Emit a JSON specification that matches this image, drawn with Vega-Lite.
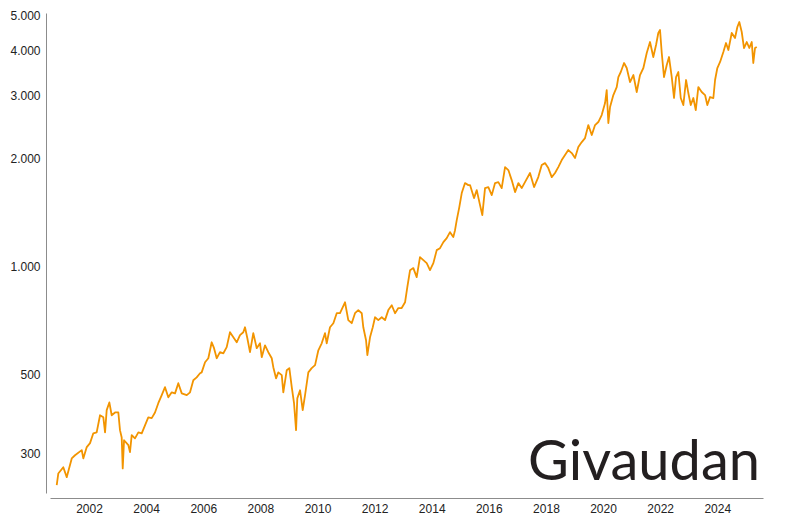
{
  "$schema": "https://vega.github.io/schema/vega-lite/v6.json",
  "autosize": {"type": "none"},
  "padding": {"left": 50, "top": 13, "right": 37, "bottom": 27},
  "width": 713,
  "height": 480,
  "background": "white",
  "config": {
    "view": {"stroke": null},
    "axis": {"grid": false, "ticks": false, "domainColor": "#8c8c8c", "domainWidth": 1, "labelFont": "Liberation Sans", "labelFontSize": 12, "labelColor": "#222222"}
  },
  "data": {"values": [
    {"date":"2000-11-14","close":245},{"date":"2000-12-04","close":264},{"date":"2001-02-06","close":275},{"date":"2001-03-22","close":258},{"date":"2001-05-25","close":291},{"date":"2001-07-06","close":297},{"date":"2001-09-30","close":307},{"date":"2001-10-20","close":291},{"date":"2001-12-03","close":313},{"date":"2002-01-14","close":321},{"date":"2002-02-25","close":342},{"date":"2002-04-09","close":344},{"date":"2002-05-22","close":384},{"date":"2002-07-03","close":379},{"date":"2002-07-25","close":344},{"date":"2002-08-15","close":397},{"date":"2002-09-18","close":417},{"date":"2002-10-18","close":384},{"date":"2002-11-30","close":391},{"date":"2003-01-11","close":391},{"date":"2003-02-01","close":349},{"date":"2003-02-23","close":333},{"date":"2003-03-08","close":273},{"date":"2003-03-25","close":327},{"date":"2003-05-19","close":317},{"date":"2003-06-09","close":303},{"date":"2003-07-01","close":338},{"date":"2003-08-12","close":331},{"date":"2003-09-24","close":344},{"date":"2003-11-06","close":342},{"date":"2003-12-18","close":360},{"date":"2004-01-29","close":379},{"date":"2004-03-13","close":377},{"date":"2004-04-24","close":391},{"date":"2004-06-05","close":415},{"date":"2004-07-19","close":437},{"date":"2004-08-30","close":460},{"date":"2004-10-11","close":431},{"date":"2004-11-24","close":445},{"date":"2005-01-05","close":442},{"date":"2005-02-16","close":472},{"date":"2005-04-01","close":442},{"date":"2005-06-04","close":437},{"date":"2005-07-16","close":445},{"date":"2005-08-27","close":481},{"date":"2005-10-09","close":490},{"date":"2005-11-21","close":503},{"date":"2005-12-12","close":506},{"date":"2006-01-24","close":540},{"date":"2006-03-07","close":554},{"date":"2006-04-19","close":614},{"date":"2006-05-19","close":591},{"date":"2006-06-22","close":554},{"date":"2006-08-03","close":576},{"date":"2006-09-15","close":572},{"date":"2006-10-28","close":595},{"date":"2006-12-09","close":655},{"date":"2007-01-21","close":634},{"date":"2007-03-05","close":614},{"date":"2007-04-16","close":643},{"date":"2007-05-28","close":655},{"date":"2007-06-19","close":676},{"date":"2007-07-19","close":630},{"date":"2007-08-22","close":576},{"date":"2007-10-03","close":651},{"date":"2007-11-16","close":591},{"date":"2007-12-28","close":610},{"date":"2008-01-19","close":558},{"date":"2008-03-01","close":602},{"date":"2008-04-12","close":576},{"date":"2008-05-26","close":554},{"date":"2008-06-15","close":523},{"date":"2008-07-20","close":487},{"date":"2008-08-18","close":506},{"date":"2008-10-01","close":497},{"date":"2008-10-21","close":445},{"date":"2008-12-04","close":513},{"date":"2009-01-06","close":520},{"date":"2009-02-06","close":460},{"date":"2009-03-07","close":415},{"date":"2009-04-02","close":349},{"date":"2009-04-18","close":428},{"date":"2009-05-23","close":451},{"date":"2009-06-26","close":397},{"date":"2009-07-26","close":437},{"date":"2009-09-06","close":506},{"date":"2009-10-19","close":520},{"date":"2009-12-01","close":530},{"date":"2010-01-12","close":583},{"date":"2010-02-24","close":610},{"date":"2010-04-07","close":651},{"date":"2010-04-29","close":610},{"date":"2010-06-10","close":676},{"date":"2010-07-23","close":694},{"date":"2010-09-04","close":740},{"date":"2010-10-16","close":740},{"date":"2010-12-19","close":794},{"date":"2011-01-30","close":708},{"date":"2011-03-15","close":694},{"date":"2011-04-26","close":740},{"date":"2011-06-07","close":755},{"date":"2011-07-21","close":740},{"date":"2011-08-10","close":676},{"date":"2011-09-14","close":622},{"date":"2011-10-01","close":565},{"date":"2011-11-04","close":634},{"date":"2011-12-09","close":676},{"date":"2012-01-07","close":721},{"date":"2012-02-18","close":708},{"date":"2012-04-02","close":721},{"date":"2012-05-14","close":708},{"date":"2012-06-25","close":755},{"date":"2012-08-08","close":779},{"date":"2012-09-19","close":740},{"date":"2012-10-31","close":765},{"date":"2012-12-13","close":765},{"date":"2013-01-25","close":794},{"date":"2013-02-23","close":875},{"date":"2013-03-30","close":976},{"date":"2013-05-11","close":989},{"date":"2013-06-23","close":933},{"date":"2013-08-04","close":1061},{"date":"2013-09-16","close":1041},{"date":"2013-10-29","close":1021},{"date":"2013-12-10","close":976},{"date":"2014-01-22","close":1021},{"date":"2014-03-06","close":1110},{"date":"2014-04-17","close":1124},{"date":"2014-05-30","close":1169},{"date":"2014-07-12","close":1199},{"date":"2014-08-23","close":1246},{"date":"2014-10-04","close":1207},{"date":"2014-10-26","close":1262},{"date":"2014-11-17","close":1346},{"date":"2014-12-20","close":1464},{"date":"2015-01-20","close":1602},{"date":"2015-03-03","close":1708},{"date":"2015-04-14","close":1686},{"date":"2015-05-06","close":1686},{"date":"2015-06-26","close":1551},{"date":"2015-07-31","close":1633},{"date":"2015-09-11","close":1483},{"date":"2015-10-10","close":1390},{"date":"2015-11-14","close":1654},{"date":"2015-12-26","close":1665},{"date":"2016-02-08","close":1581},{"date":"2016-03-21","close":1708},{"date":"2016-05-02","close":1719},{"date":"2016-06-14","close":1654},{"date":"2016-07-27","close":1893},{"date":"2016-09-07","close":1857},{"date":"2016-10-20","close":1741},{"date":"2016-12-02","close":1612},{"date":"2017-01-13","close":1708},{"date":"2017-02-25","close":1654},{"date":"2017-04-08","close":1719},{"date":"2017-06-11","close":1822},{"date":"2017-08-02","close":1665},{"date":"2017-09-25","close":1775},{"date":"2017-11-08","close":1918},{"date":"2017-12-20","close":1942},{"date":"2018-01-31","close":1881},{"date":"2018-03-16","close":1775},{"date":"2018-04-27","close":1822},{"date":"2018-06-08","close":1893},{"date":"2018-07-22","close":1980},{"date":"2018-09-02","close":2045},{"date":"2018-10-14","close":2112},{"date":"2018-11-27","close":2071},{"date":"2019-01-08","close":2006},{"date":"2019-02-19","close":2153},{"date":"2019-04-04","close":2223},{"date":"2019-05-16","close":2281},{"date":"2019-06-27","close":2480},{"date":"2019-08-10","close":2326},{"date":"2019-09-21","close":2480},{"date":"2019-11-02","close":2529},{"date":"2019-12-15","close":2645},{"date":"2020-01-27","close":2857},{"date":"2020-02-17","close":3106},{"date":"2020-03-09","close":2512},{"date":"2020-03-31","close":2785},{"date":"2020-05-12","close":3008},{"date":"2020-06-24","close":3167},{"date":"2020-07-15","close":3377},{"date":"2020-08-15","close":3488},{"date":"2020-09-26","close":3696},{"date":"2020-10-30","close":3579},{"date":"2020-12-11","close":3270},{"date":"2021-01-23","close":3421},{"date":"2021-03-07","close":3067},{"date":"2021-04-18","close":3421},{"date":"2021-05-31","close":3579},{"date":"2021-07-13","close":3941},{"date":"2021-08-24","close":4230},{"date":"2021-10-05","close":3841},{"date":"2021-11-09","close":4149},{"date":"2021-12-08","close":4482},{"date":"2021-12-30","close":4570},{"date":"2022-01-21","close":3941},{"date":"2022-02-19","close":3377},{"date":"2022-03-26","close":3648},{"date":"2022-04-24","close":3841},{"date":"2022-05-29","close":3377},{"date":"2022-06-27","close":2951},{"date":"2022-07-23","close":3377},{"date":"2022-08-21","close":3488},{"date":"2022-09-21","close":2951},{"date":"2022-10-24","close":2821},{"date":"2022-11-28","close":3313},{"date":"2022-12-27","close":3047},{"date":"2023-01-27","close":2821},{"date":"2023-03-01","close":2951},{"date":"2023-04-01","close":2731},{"date":"2023-05-04","close":3167},{"date":"2023-06-16","close":3067},{"date":"2023-07-29","close":3008},{"date":"2023-08-27","close":2821},{"date":"2023-10-01","close":2970},{"date":"2023-11-12","close":2951},{"date":"2023-12-04","close":3313},{"date":"2024-01-02","close":3579},{"date":"2024-02-06","close":3720},{"date":"2024-03-19","close":3967},{"date":"2024-04-22","close":4203},{"date":"2024-05-22","close":4018},{"date":"2024-07-04","close":4482},{"date":"2024-08-15","close":4340},{"date":"2024-09-14","close":4658},{"date":"2024-10-09","close":4811},{"date":"2024-11-09","close":4511},{"date":"2024-12-08","close":4070},{"date":"2025-01-12","close":4230},{"date":"2025-02-14","close":4070},{"date":"2025-03-17","close":4230},{"date":"2025-04-06","close":3696},{"date":"2025-04-28","close":4070},{"date":"2025-05-20","close":4096}
  ]},
  "layer": [
    {
      "mark": {"type": "line", "color": "#f29400", "strokeWidth": 1.8, "strokeJoin": "round"},
      "encoding": {
        "x": {"field": "date", "type": "temporal",
          "scale": {"domain": ["2000-08-20", "2025-08-08"], "nice": false},
          "axis": {"title": null, "format": "%Y", "tickCount": {"interval": "year", "step": 2}, "offset": 5, "labelPadding": 5, "labelFlush": false}},
        "y": {"field": "close", "type": "quantitative",
          "scale": {"type": "log", "domain": [233, 5097], "nice": false, "zero": false},
          "axis": {"title": null, "values": [300, 500, 1000, 2000, 3000, 4000, 5000], "offset": 4, "labelPadding": 6, "labelExpr": "replace(format(datum.value, ','), ',', '.')"}}
      }
    },
    {
      "data": {"values": [{}]},
      "mark": {"type": "text", "align": "right", "baseline": "alphabetic", "font": "Lato", "fontSize": 56, "color": "#231f20", "text": "Givaudan"},
      "encoding": {
        "x": {"datum": {"year": 2025, "month": 7, "date": 1}, "type": "temporal"},
        "y": {"datum": 253, "type": "quantitative"}
      }
    }
  ]
}
